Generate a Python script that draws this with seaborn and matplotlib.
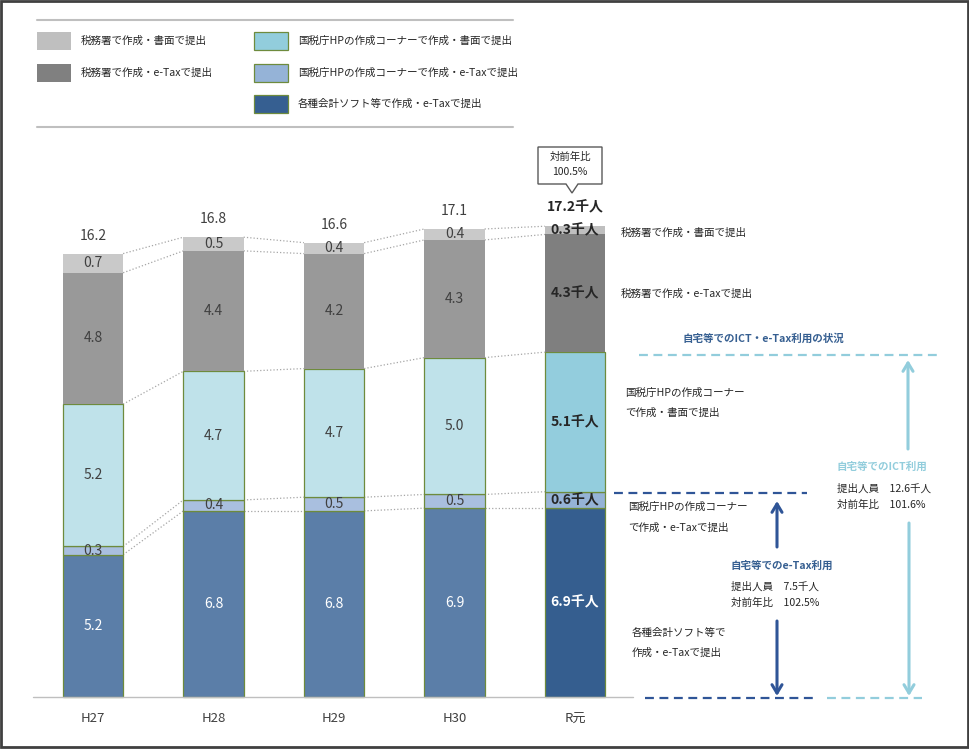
import numpy as np
import pandas as pd
import matplotlib.pyplot as plt
import seaborn as sns
from matplotlib.patches import Rectangle, Polygon
from matplotlib.transforms import Affine2D

sns.set_theme(style="white")
plt.rcParams['font.family'] = ['Noto Sans CJK JP', 'DejaVu Sans']

# data (thousand persons), bottom -> top
years = ['H27', 'H28', 'H29', 'H30', 'R元']
soft_etax = [5.2, 6.8, 6.8, 6.9, 6.9]
hp_etax = [0.3, 0.4, 0.5, 0.5, 0.6]
hp_paper = [5.2, 4.7, 4.7, 5.0, 5.1]
office_etax = [4.8, 4.4, 4.2, 4.3, 4.3]
office_paper = [0.7, 0.5, 0.4, 0.4, 0.3]
totals = [16.2, 16.8, 16.6, 17.1, 17.2]

names = ['各種会計ソフト等で作成・e-Taxで提出',
         '国税庁HPの作成コーナーで作成・e-Taxで提出',
         '国税庁HPの作成コーナーで作成・書面で提出',
         '税務署で作成・e-Taxで提出',
         '税務署で作成・書面で提出']

GREEN = '#6e8b3d'
layers = [
    (soft_etax, '#5b7ea8', '#355e8f', GREEN, 'white', 'white'),
    (hp_etax, '#a9bfdf', '#95b3d7', GREEN, '#404040', '#262626'),
    (hp_paper, '#bfe2ea', '#93cddd', GREEN, '#404040', '#262626'),
    (office_etax, '#999999', '#7f7f7f', 'none', '#404040', '#262626'),
    (office_paper, '#c9c9c9', '#bfbfbf', 'none', '#404040', '#262626'),
]

W, H = 970, 749
fig = plt.figure(figsize=(W / 100, H / 100), dpi=100)
ax = fig.add_axes([0, 0, 1, 1])
pix = Affine2D().scale(1 / W, -1 / H).translate(0, 1) + fig.transFigure

bottom = np.zeros(len(years))
levels = []
for vals, pale, dark, edge, tc, tc_last in layers:
    sns.barplot(x=years, y=vals, bottom=bottom, color=pale, saturation=1,
                width=0.5, edgecolor=edge, linewidth=0.9 if edge != 'none' else 0,
                errorbar=None, ax=ax)
    ax.patches[-1].set_facecolor(dark)
    for i, v in enumerate(vals):
        y = bottom[i] + v / 2
        if i < len(years) - 1:
            ax.text(i, y, f'{v:.1f}', ha='center', va='center', fontsize=10, color=tc)
        else:
            ax.text(i, y, f'{v:.1f}千人', ha='center', va='center', fontsize=10,
                    color=tc_last, fontweight='bold')
    bottom = bottom + np.array(vals)
    levels.append(bottom.copy())

# dotted connectors between bars
for lev in levels:
    for i in range(len(years) - 1):
        ax.plot([i + 0.25, i + 0.75], [lev[i], lev[i + 1]], ls=':', lw=0.9,
                color='#a6a6a6', zorder=0)

# totals
for i, t in enumerate(totals):
    if i < len(totals) - 1:
        ax.text(i, t + 0.65, f'{t:.1f}', ha='center', va='center', fontsize=10, color='#404040')
    else:
        ax.text(i, t + 0.68, f'{t:.1f}千人', ha='center', va='center', fontsize=10,
                color='#262626', fontweight='bold')

# category labels
for i, yl in enumerate(years):
    ax.text(i, -0.78, yl, ha='center', va='center', fontsize=9.5, color='#404040')

ax.set_xlim(-93 / 120.5, (W - 93) / 120.5)
ax.set_ylim(-(H - 697) / 27.37, 697 / 27.37)
ax.set_axis_off()

# baseline
ax.plot([33, 633], [697, 697], color='#bfbfbf', lw=1, transform=pix)

# callout
callout = Polygon([(538, 147), (602, 147), (602, 184), (578, 184), (572, 193),
                   (566, 184), (538, 184)], closed=True, facecolor='white',
                  edgecolor='#595959', lw=1, transform=pix)
ax.add_patch(callout)
ax.text(570, 157, '対前年比', ha='center', va='center', fontsize=7.5, color='#262626', transform=pix)
ax.text(570, 172, '100.5%', ha='center', va='center', fontsize=7.5, color='#262626', transform=pix)

# legend block
ax.plot([37, 513], [20, 20], color='#bfbfbf', lw=1.5, transform=pix)
ax.plot([37, 513], [127, 127], color='#bfbfbf', lw=1.5, transform=pix)
leg_items = [
    (37, 41, '#bfbfbf', 'none', names[4]),
    (37, 73, '#808080', 'none', names[3]),
    (254, 41, '#92cddc', GREEN, names[2]),
    (254, 73, '#95b3d7', GREEN, names[1]),
    (254, 104, '#365f91', GREEN, names[0]),
]
for x, y, fc, ec, lab in leg_items:
    ax.add_patch(Rectangle((x, y - 9), 34, 18, facecolor=fc, edgecolor=ec,
                           lw=0.9 if ec != 'none' else 0, transform=pix))
    ax.text(x + 44, y, lab, ha='left', va='center', fontsize=7.6, color='#262626', transform=pix)

# right-side annotations
TXT = '#262626'
DARK = '#2f5597'
LIGHT = '#92cddc'
notes = [
    (621, 233, '税務署で作成・書面で提出'),
    (621, 294, '税務署で作成・e-Taxで提出'),
    (625, 393, '国税庁HPの作成コーナー'),
    (625, 413, 'で作成・書面で提出'),
    (628, 507, '国税庁HPの作成コーナー'),
    (628, 528, 'で作成・e-Taxで提出'),
    (632, 633, '各種会計ソフト等で'),
    (632, 653, '作成・e-Taxで提出'),
    (837, 489, '提出人員　12.6千人'),
    (837, 505, '対前年比　101.6%'),
    (731, 587, '提出人員　7.5千人'),
    (731, 603, '対前年比　102.5%'),
]
for x, y, s in notes:
    ax.text(x, y, s, ha='left', va='center', fontsize=7.6, color=TXT, transform=pix)

ax.text(683, 339, '自宅等でのICT・e-Tax利用の状況', ha='left', va='center', fontsize=7.6,
        color='#365f91', fontweight='bold', transform=pix)
ax.text(837, 467, '自宅等でのICT利用', ha='left', va='center', fontsize=7.6,
        color=LIGHT, fontweight='bold', transform=pix)
ax.text(731, 566, '自宅等でのe-Tax利用', ha='left', va='center', fontsize=7.6,
        color='#365f91', fontweight='bold', transform=pix)

# dashed guides
ax.plot([639, 937], [355, 355], ls=(0, (4, 2.5)), lw=1.6, color=LIGHT, transform=pix)
ax.plot([614, 807], [493, 493], ls=(0, (4, 2.5)), lw=1.6, color=DARK, transform=pix)
ax.plot([645, 818], [698, 698], ls=(0, (4, 2.5)), lw=1.6, color=DARK, transform=pix)
ax.plot([827, 922], [698, 698], ls=(0, (4, 2.5)), lw=1.6, color=LIGHT, transform=pix)

# arrows
arrows = [
    (908, 449, 360, LIGHT), (909, 523, 696, LIGHT),
    (777, 547, 501, DARK), (777, 621, 696, DARK),
]
for x, y0, y1, c in arrows:
    ax.annotate('', xy=(x, y1), xytext=(x, y0), xycoords=pix, textcoords=pix,
                arrowprops=dict(arrowstyle='->,head_length=0.5,head_width=0.3',
                                color=c, lw=2.2, shrinkA=0, shrinkB=0))

# outer frame
fig.add_artist(Rectangle((1, 1), W - 3, H - 3, fill=False, edgecolor='#404040',
                         lw=2, transform=pix))

fig.savefig('out.png', dpi=100)
